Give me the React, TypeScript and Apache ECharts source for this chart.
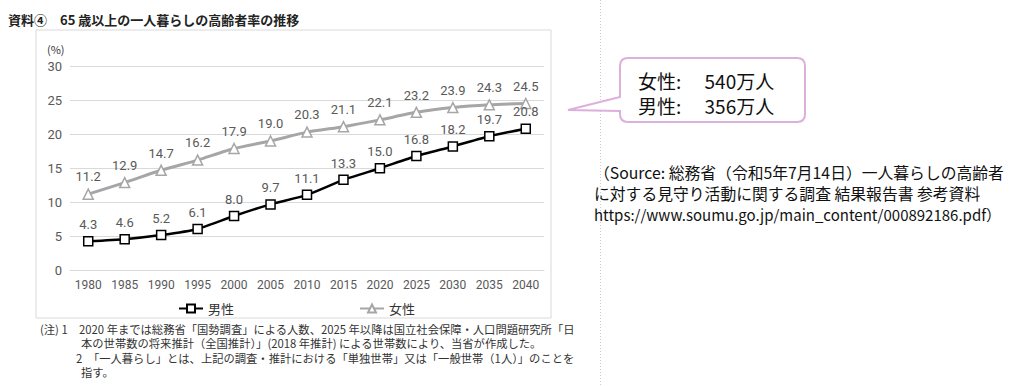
import React, { useEffect, useRef } from "react";
import * as echarts from "echarts";

const years = ["1980", "1985", "1990", "1995", "2000", "2005", "2010", "2015", "2020", "2025", "2030", "2035", "2040"];
const femaleRates = [11.2, 12.9, 14.7, 16.2, 17.9, 19.0, 20.3, 21.1, 22.1, 23.2, 23.9, 24.3, 24.5];
const maleRates = [4.3, 4.6, 5.2, 6.1, 8.0, 9.7, 11.1, 13.3, 15.0, 16.8, 18.2, 19.7, 20.8];
const seriesNames = ["男性", "女性"];
const titleText = "資料④　65 歳以上の一人暮らしの高齢者率の推移";
const unitText = "(%)";
const calloutLines = ["女性:　 540万人", "男性:　 356万人"];
const sourceLines = [
  "（Source: 総務省（令和5年7月14日）一人暮らしの高齢者",
  "に対する見守り活動に関する調査 結果報告書 参考資料",
  "https://www.soumu.go.jp/main_content/000892186.pdf）",
];
const noteLines = [
  "(注) 1　2020 年までは総務省「国勢調査」による人数、2025 年以降は国立社会保障・人口問題研究所「日",
  "本の世帯数の将来推計（全国推計）」(2018 年推計) による世帯数により、当省が作成した。",
  "2　「一人暮らし」とは、上記の調査・推計における「単独世帯」又は「一般世帯（1人）」のことを",
  "指す。",
];

const CJK = "'Noto Sans CJK JP', 'Noto Sans', sans-serif";
const NUM = "'Roboto', 'Noto Sans', sans-serif";

const calloutPath =
  "M628,58 L797,58 Q805,58 805,66 L805,114 Q805,122 797,122 L628,122 Q620,122 620,114 L620,111 L568,110 L620,97 L620,66 Q620,58 628,58 Z";

export default function App() {
  const ref = useRef<HTMLDivElement>(null);
  useEffect(() => {
    if (!ref.current) return;
    try {
      echarts.graphic.registerShape("callout", echarts.graphic.extendPath(calloutPath, {}));
    } catch (e) {}
    const chart = echarts.init(ref.current, null, { renderer: "svg" });
    const labelStyle = {
      show: true,
      position: "top",
      distance: 5,
      fontSize: 13,
      color: "#595959",
      fontFamily: NUM,
      formatter: (p: any) => Number(p.value).toFixed(1),
    };
    chart.setOption({
      animation: false,
      backgroundColor: "#ffffff",
      grid: { left: 70, right: 480, top: 66, bottom: 115.5 },
      legend: {
        left: 173,
        top: 297,
        itemGap: 125,
        itemWidth: 24,
        itemHeight: 10,
        data: seriesNames,
        textStyle: { fontSize: 13, color: "#333", fontFamily: CJK },
      },
      xAxis: {
        type: "category",
        data: years,
        boundaryGap: true,
        axisLine: { lineStyle: { color: "#d9d9d9" } },
        axisTick: { show: false },
        axisLabel: { color: "#595959", fontSize: 12, fontFamily: NUM, margin: 8, interval: 0 },
      },
      yAxis: {
        type: "value",
        min: 0,
        max: 30,
        interval: 5,
        axisLine: { show: false },
        axisTick: { show: false },
        splitLine: { lineStyle: { color: "#d9d9d9", width: 1 } },
        axisLabel: { color: "#595959", fontSize: 13, fontFamily: NUM, margin: 8 },
      },
      series: [
        {
          name: seriesNames[0],
          type: "line",
          data: maleRates,
          smooth: 0.2,
          symbol: "rect",
          symbolSize: 9,
          lineStyle: { color: "#000000", width: 2.5 },
          itemStyle: { color: "#ffffff", borderColor: "#000000", borderWidth: 1.5 },
          label: labelStyle,
          z: 3,
        },
        {
          name: seriesNames[1],
          type: "line",
          data: femaleRates,
          smooth: 0.2,
          symbol: "triangle",
          symbolSize: 10,
          lineStyle: { color: "#a6a6a6", width: 3 },
          itemStyle: { color: "#ffffff", borderColor: "#a6a6a6", borderWidth: 1.5 },
          label: labelStyle,
          z: 2,
        },
      ],
      graphic: [
        {
          type: "rect",
          shape: { x: 36, y: 30, width: 515, height: 288 },
          style: { fill: "none", stroke: "#d9d9d9", lineWidth: 1 },
          z: -1,
        },
        {
          type: "text",
          x: 8,
          y: 19,
          style: { text: titleText, fontSize: 13, fontWeight: "bold", fill: "#222", fontFamily: CJK, verticalAlign: "middle" },
        },
        {
          type: "text",
          x: 47,
          y: 49,
          style: { text: unitText, fontSize: 11, fill: "#333", fontFamily: CJK, verticalAlign: "middle" },
        },
        {
          type: "line",
          shape: { x1: 600.5, y1: 0, x2: 600.5, y2: 386 },
          style: { stroke: "#cccccc", lineWidth: 1, lineDash: [1, 2] },
        },
        {
          type: "callout",
          x: 0,
          y: 0,
          style: { fill: "#ffffff", stroke: "#dcb0dc", lineWidth: 2 },
        },
        ...calloutLines.map((t, i) => ({
          type: "text",
          x: 638,
          y: 80 + i * 25,
          style: { text: t, fontSize: 19, fill: "#111", fontFamily: CJK, verticalAlign: "middle" },
        })),
        ...sourceLines.map((t, i) => ({
          type: "text",
          x: 594,
          y: [172.5, 193.5, 214.5][i],
          style: {
            text: t,
            fontSize: i === 2 ? 15 : 15.8,
            fill: "#111",
            fontFamily: CJK,
            verticalAlign: "middle",
          },
        })),
        ...noteLines.map((t, i) => ({
          type: "text",
          x: [40, 81, 76, 81][i],
          y: [329, 343, 358, 372][i],
          style: { text: t, fontSize: 11.3, fill: "#333", fontFamily: CJK, verticalAlign: "middle" },
        })),
      ],
    });
    return () => chart.dispose();
  }, []);
  return (
    <div
      ref={ref}
      style={{ position: "fixed", left: 0, top: 0, width: 1024, height: 386, background: "#fff" }}
    />
  );
}
